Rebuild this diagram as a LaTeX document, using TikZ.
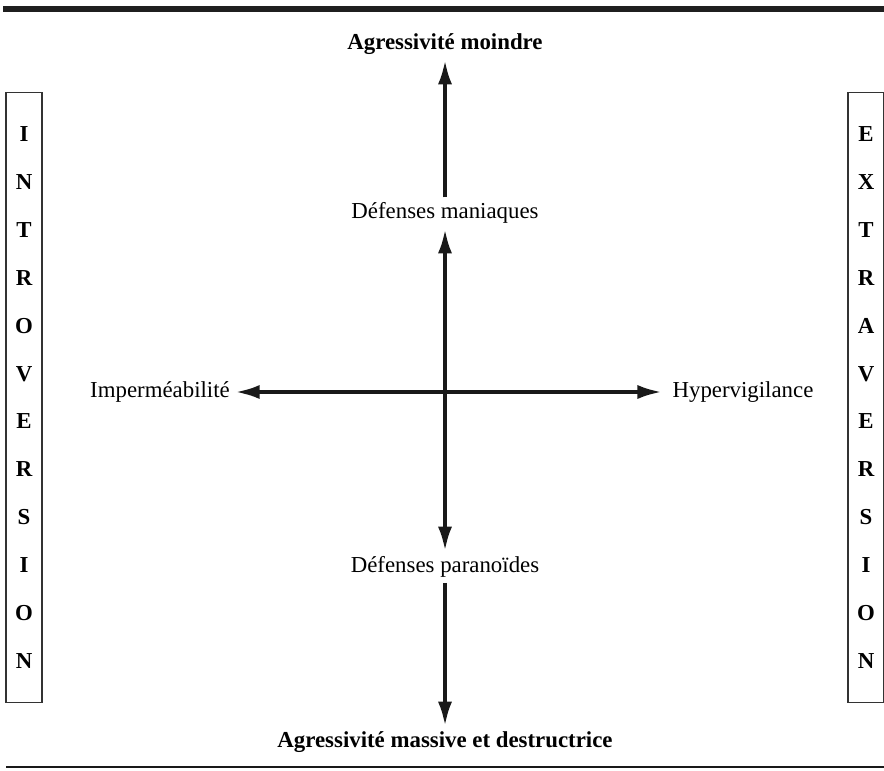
\documentclass[tikz,border=0pt]{standalone}
\usepackage{fontspec}
\setmainfont{Liberation Serif}
\usetikzlibrary{arrows.meta, positioning}

\tikzset{
  etiquette/.style={inner sep=0pt, outer sep=3pt, font=\fontsize{13}{15}\selectfont},
  titre/.style={etiquette, font=\fontsize{13}{15}\selectfont\bfseries},
  axe/.style={line width=2.3pt, draw=black!90, -{Latex[length=14pt,width=8pt]}},
  axedouble/.style={axe, {Latex[length=14pt,width=8pt]}-{Latex[length=14pt,width=8pt]}},
  colonne/.style={draw=black!80, line width=0.6pt, minimum width=0.72cm, minimum height=12.22cm, inner sep=0pt, align=center, font=\fontsize{13}{27.3}\selectfont\bfseries},
}

\begin{document}
\begin{tikzpicture}[x=0.02cm, y=-0.02cm]
\useasboundingbox (0,0) rectangle (884,770);

\fill[black!88] (3,6) rectangle (884,12);
\draw[black!90, line width=0.6pt] (6,767) -- (884,767);

\node[titre] (moindre) at (445,44) {Agressivité moindre};
\node[etiquette] (maniaques) at (445,213) {Défenses maniaques};
\node[etiquette] (paranoides) at (445,567) {Défenses paranoïdes};
\node[titre] (massive) at (445,742) {Agressivité massive et destructrice};
\node[etiquette] (impermeabilite) at (160,392) {Imperméabilité};
\node[etiquette] (hypervigilance) at (743,392) {Hypervigilance};

\draw[axe] (maniaques) -- (moindre);
\draw[axedouble] (maniaques) -- (paranoides);
\draw[axe] (paranoides) -- (massive);
\draw[axedouble, shorten >=3pt] (impermeabilite) -- (hypervigilance);

\node[colonne] (introversion) at (24,397.5) {I\\N\\T\\R\\O\\V\\E\\R\\S\\I\\O\\N};
\node[colonne] (extraversion) at (866,397.5) {E\\X\\T\\R\\A\\V\\E\\R\\S\\I\\O\\N};

\end{tikzpicture}
\end{document}
